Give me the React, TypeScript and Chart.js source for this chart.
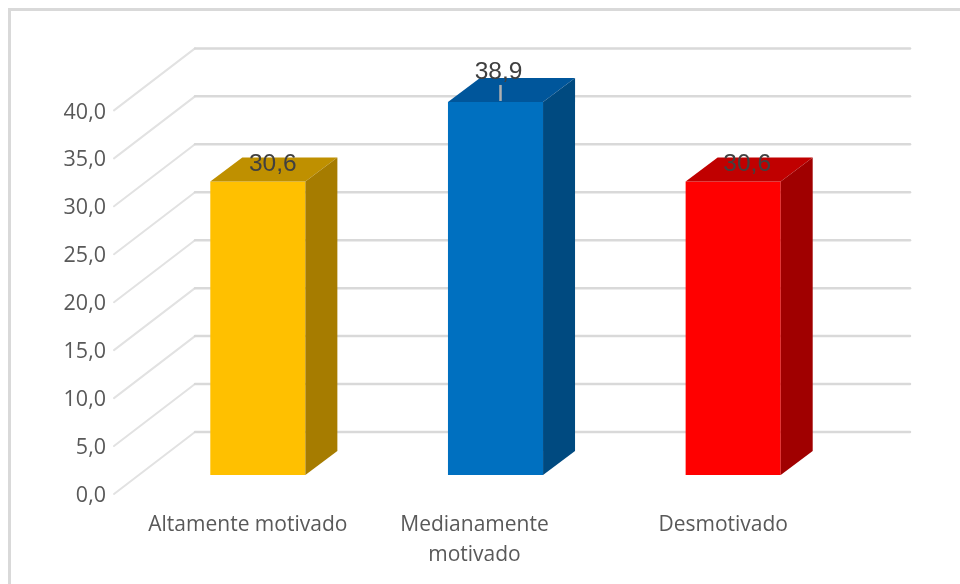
import React, { useEffect, useRef } from "react";
import { Chart, registerables } from "chart.js";

Chart.register(...registerables);

const categories = ["Altamente motivado", ["Medianamente", "motivado"], "Desmotivado"];
const values = [30.6, 38.9, 30.6];
const frontColors = ["#ffc000", "#0070c0", "#ff0000"];
const topColors = ["#bf9000", "#00569b", "#c00000"];
const sideColors = ["#a67c00", "#004a80", "#a00000"];
const axisMax = 40;
const axisStep = 5;
const labelNudges = [0, -11, 0];

const fmt = (v: number) => v.toFixed(1).replace(".", ",");

const scene3d = {
  id: "scene3d",
  afterUpdate(chart: any) {
    const items = chart.scales.x.getLabelItems();
    items.forEach((it: any, i: number) => {
      it.options.translation[0] += labelNudges[i] || 0;
    });
  },
  beforeDatasetsDraw(chart: any) {
    const { ctx, scales } = chart;
    const y = scales.y;
    ctx.save();
    ctx.lineCap = "round";
    for (let v = 0; v <= axisMax; v += axisStep) {
      const p = y.getPixelForValue(v);
      ctx.strokeStyle = "#e2e2e2";
      ctx.lineWidth = 2;
      ctx.beginPath();
      ctx.moveTo(114, p + 19);
      ctx.lineTo(195, p - 43);
      ctx.stroke();
      ctx.strokeStyle = "#d9d9d9";
      ctx.lineWidth = 2.5;
      ctx.beginPath();
      ctx.moveTo(195, p - 43);
      ctx.lineTo(910, p - 43);
      ctx.stroke();
    }
    ctx.restore();
  },
  afterDatasetsDraw(chart: any) {
    const { ctx } = chart;
    const bars = chart.getDatasetMeta(0).data;
    const dx = 32;
    const dy = 24;
    ctx.save();
    bars.forEach((b: any, i: number) => {
      const l = b.x - b.width / 2;
      const r = b.x + b.width / 2;
      const t = b.y;
      const bot = b.base;
      ctx.fillStyle = topColors[i];
      ctx.beginPath();
      ctx.moveTo(l, t);
      ctx.lineTo(l + dx, t - dy);
      ctx.lineTo(r + dx, t - dy);
      ctx.lineTo(r, t);
      ctx.closePath();
      ctx.fill();
      ctx.fillStyle = sideColors[i];
      ctx.beginPath();
      ctx.moveTo(r, t);
      ctx.lineTo(r + dx, t - dy);
      ctx.lineTo(r + dx, bot - dy);
      ctx.lineTo(r, bot);
      ctx.closePath();
      ctx.fill();
    });
    // leader line of the middle label
    const m = bars[1];
    ctx.strokeStyle = "#b0b0b0";
    ctx.lineWidth = 2.5;
    ctx.beginPath();
    ctx.moveTo(m.x + 5, m.y - 1);
    ctx.lineTo(m.x + 5, m.y - 17);
    ctx.stroke();
    // value labels
    ctx.fillStyle = "#404040";
    ctx.font = '24.5px "Liberation Sans"';
    ctx.textAlign = "center";
    ctx.textBaseline = "middle";
    bars.forEach((b: any, i: number) => {
      ctx.fillText(fmt(values[i]), b.x + (i === 1 ? 3 : i === 0 ? 15 : 14), b.y - 17 - (i === 1 ? 13 : 0));
    });
    ctx.restore();
  },
};

export default function App() {
  const ref = useRef<HTMLCanvasElement>(null);
  useEffect(() => {
    document.body.style.margin = "0";
    document.body.style.background = "#ffffff";
    const chart = new Chart(ref.current!, {
      type: "bar",
      data: {
        labels: categories as any,
        datasets: [
          {
            data: values,
            backgroundColor: frontColors,
            categoryPercentage: 0.8,
            barPercentage: 0.5,
          },
        ],
      },
      options: {
        responsive: false,
        animation: false,
        layout: { padding: { left: 0, top: 91.4, right: 108, bottom: 0 } },
        plugins: { legend: { display: false }, tooltip: { enabled: false } },
        scales: {
          x: {
            grid: { display: false },
            border: { display: false },
            ticks: {
              color: "#595959",
              font: { family: '"Open Sans"', size: 21, lineHeight: 1.42 },
              labelOffset: -10,
              padding: 27,
              maxRotation: 0,
              autoSkip: false,
            },
            afterFit(s: any) {
              s.height = 584 - 475;
            },
          },
          y: {
            min: 0,
            max: axisMax,
            grid: { display: false },
            border: { display: false },
            ticks: {
              stepSize: axisStep,
              color: "#595959",
              font: { family: '"Open Sans"', size: 21.5 },
              labelOffset: 21,
              padding: 25,
              callback: (v: any) => fmt(Number(v)),
            },
            afterFit(s: any) {
              s.width = 139;
            },
          },
        },
      } as any,
      plugins: [scene3d],
    });
    return () => chart.destroy();
  }, []);
  return (
    <div style={{ position: "relative", width: 960, height: 584, overflow: "hidden" }}>
      <canvas
        ref={ref}
        width={960}
        height={584}
        style={{ position: "absolute", left: 0, top: 0, display: "block" }}
      />
      <div
        style={{
          position: "absolute",
          left: 8,
          top: 8,
          width: 960,
          height: 584,
          borderLeft: "3px solid #d9d9d9",
          borderTop: "3px solid #d9d9d9",
          pointerEvents: "none",
        }}
      />
    </div>
  );
}
